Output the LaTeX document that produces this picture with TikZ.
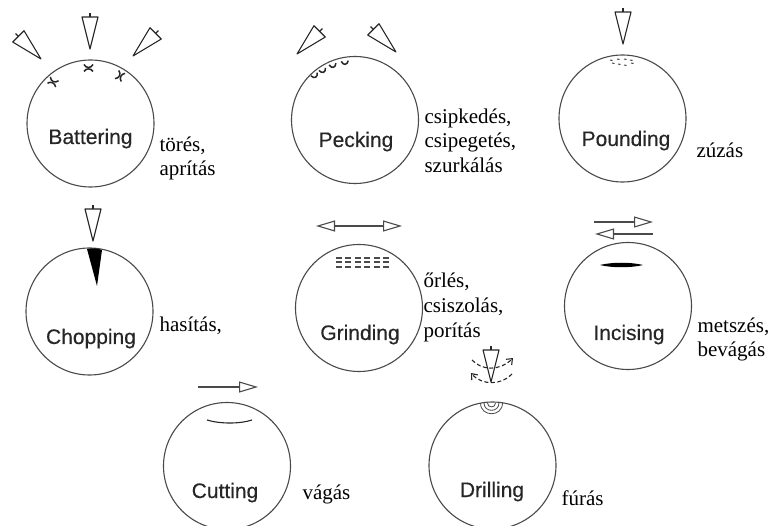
\documentclass[tikz,border=0pt]{standalone}
\usepackage{fontspec}
\setmainfont{Liberation Serif}
\newfontfamily\stonefont[FakeBold=0.35]{Liberation Sans}
\usetikzlibrary{arrows.meta,positioning}
\definecolor{ink}{HTML}{4A4A4A}
\definecolor{dark}{HTML}{262626}

\begin{document}
\begin{tikzpicture}[
  x=1pt, y=-1pt,
  line width=1.1pt,
  stone/.style={draw=ink, circle, minimum size=127pt, inner sep=0pt},
  title/.style={font=\stonefont\fontsize{21}{24}\selectfont, text=dark, anchor=base, inner sep=0pt},
  gloss/.style={font=\fontsize{21}{24}\selectfont, text=black, align=left, anchor=base west, inner sep=0pt},
  ar/.style={-{Triangle[open, length=19pt, width=11pt]}, draw=ink},
  arboth/.style={{Triangle[open, length=19pt, width=11pt]}-{Triangle[open, length=19pt, width=11pt]}, draw=ink},
  swing/.style={-{Straight Barb[length=5pt, width=8pt]}, draw=dark, dash pattern=on 4pt off 2.5pt},
  tool/.pic={
    \draw[draw=dark, line join=round] (0,0) -- (-8,-32) -- (8,-32) -- cycle;
    \draw[draw=dark] (0,-32) -- (0,-36);
  },
  dent/.pic={
    \draw[draw=dark, line width=1.5pt] (-4.5,-3.5) .. controls (-2.5,0.5) and (2.5,0.5) .. (4.5,-3.5);
    \draw[draw=dark, line width=1.5pt] (-4.5,3.5) .. controls (-2.5,0) and (2.5,0) .. (4.5,3.5);
  },
  peck/.pic={
    \draw[draw=dark, line width=1.5pt] (-3.5,-2) .. controls (-2,2.5) and (2,2.5) .. (3.5,-2);
  }
]
\useasboundingbox (0,0) rectangle (771,526);

% first row
\node[stone] (battering) at (90.5,123.5) {};
\node[title] (batteringname) at (90.5,144) {Battering};
\node[gloss, anchor=north west] (batteringgloss) at (159,136) {törés,\\aprítás};
\pic[rotate=45] at (41,59) {tool};
\pic at (90,49) {tool};
\pic[rotate=-45] at (133,56) {tool};
\pic[rotate=-25] at (53,82) {dent};
\pic at (88.5,68) {dent};
\pic[rotate=65] at (120,76) {dent};

\node[stone] (pecking) at (355,120) {};
\node[title] (peckingname) at (356,147) {Pecking};
\node[gloss, anchor=north west] (peckinggloss) at (424,108) {csipkedés,\\[0.5pt]csipegetés,\\[0.5pt]szurkálás};
\pic[rotate=-45] at (297,54) {tool};
\pic[rotate=45] at (396,52) {tool};
\foreach \px/\py/\pa in {315/76/28, 323/71/22, 333/66/14, 345/63/6}
  \pic[rotate=\pa] at (\px,\py) {peck};

\node[stone] (pounding) at (622.5,118.5) {};
\node[title] (poundingname) at (626,146) {Pounding};
\node[gloss] (poundinggloss) at (696,158) {zúzás};
\pic at (623,44) {tool};
\foreach \px/\py in {611/60, 618/59, 625/59, 631/60, 613/63, 619/64, 625/65, 632/63}
  \draw[draw=ink, line width=1pt] (\px-1,\py) -- (\px+1.5,\py+0.5);

% second row
\node[stone] (chopping) at (89.5,311.5) {};
\node[title] (choppingname) at (91,344) {Chopping};
\node[gloss] (choppinggloss) at (159,332) {hasítás,};
\pic at (93,241) {tool};
\fill[black] (87,249) .. controls (92,248) and (97,248) .. (102,250) -- (97,286) -- cycle;

\node[stone] (grinding) at (359,308) {};
\node[title] (grindingname) at (360,340) {Grinding};
\node[gloss, anchor=north west] (grindinggloss) at (423,272) {őrlés,\\[1.5pt]csiszolás,\\[1pt]porítás};
\coordinate (grindl) at (316,226);
\coordinate (grindr) at (402,226);
\draw[arboth] (grindl) -- (grindr);
\foreach \gy in {258,262,267}
  \draw[draw=ink, line width=1.2pt, dash pattern=on 6pt off 3.4pt] (336,\gy) -- (389,\gy);

\node[stone] (incising) at (628,306) {};
\node[title] (incisingname) at (629,340) {Incising};
\node[gloss, anchor=north west] (incisinggloss) at (697,317) {metszés,\\bevágás};
\coordinate (incisea) at (594,222);
\coordinate (inciseb) at (653,222);
\coordinate (incisec) at (653,234);
\coordinate (incised) at (595,234);
\draw[ar] (incisea) -- (inciseb);
\draw[ar] (incisec) -- (incised);
\fill[black] (600,265) .. controls (612,262) and (631,262) .. (643,265)
  .. controls (631,268) and (612,268) .. (600,265) -- cycle;

% third row
\node[stone] (cutting) at (227,466) {};
\node[title] (cuttingname) at (225,498) {Cutting};
\node[gloss] (cuttinggloss) at (302,499) {vágás};
\coordinate (cuta) at (198,387);
\coordinate (cutb) at (258,387);
\draw[ar] (cuta) -- (cutb);
\draw[draw=dark] (207,420) .. controls (220,424) and (240,424) .. (252,420);

\node[stone] (drilling) at (492.5,465.5) {};
\node[title] (drillingname) at (492,497) {Drilling};
\node[gloss] (drillinggloss) at (561,505) {fúrás};
\pic at (491,382) {tool};
\coordinate (swinga) at (472,360);
\coordinate (swingb) at (513,358);
\coordinate (swingc) at (512,374);
\coordinate (swingd) at (471,373);
\draw[swing] (swinga) .. controls (482,371) and (500,371) .. (swingb);
\draw[swing] (swingc) .. controls (502,385) and (482,386) .. (swingd);
\foreach \dr in {4,7.5,11}
  \draw[draw=ink, line width=0.8pt] (491.5-\dr,403) .. controls (491.5-\dr,403+1.3*\dr) and (491.5+\dr,403+1.3*\dr) .. (491.5+\dr,403);
\end{tikzpicture}
\end{document}
